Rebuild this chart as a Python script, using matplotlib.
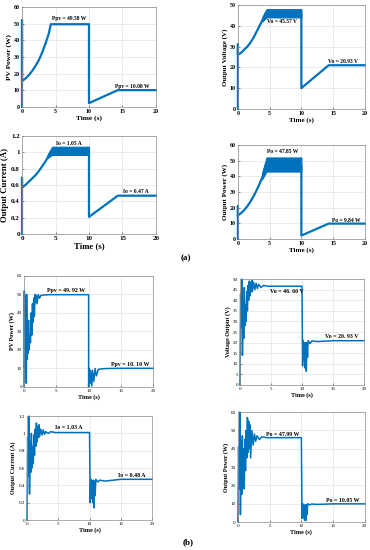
import numpy as np
import matplotlib
matplotlib.use("Agg")
import matplotlib.pyplot as plt

plt.rcParams['font.family'] = ['Liberation Serif', 'DejaVu Serif']
BLUE = '#0072BD'

# ---------------- (a) simulated, smooth response ----------------
a_ppv_t = [0, 0, 0, 0.5, 1, 1.5, 2, 2.5, 3, 3.5, 4, 4.3, 10, 10, 14.3, 20]
a_ppv_v = [0, 52, 15.5, 17, 19, 21.5, 24.5, 28, 32.5, 38, 44, 49.6, 49.6, 2.3, 10.1, 10.1]

a_vo_t = [0, 0, 0, 0.5, 1, 1.5, 2, 2.5, 3, 3.5, 4, 4.4, 10, 10, 14.3, 20]
a_vo_v = [0, 31, 26, 27, 28.5, 30, 32, 34.5, 37.5, 40.5, 43.5, 46, 46, 10, 21, 21]
a_vo_band = ([3.8, 4.5, 10], [42, 44, 44], [44, 48, 48])

a_io_t = [0, 0, 0, 0.5, 1, 1.5, 2, 2.5, 3, 3.5, 4, 4.4, 10, 10, 14.3, 20]
a_io_v = [0, 0.69, 0.57, 0.6, 0.64, 0.68, 0.72, 0.77, 0.83, 0.89, 0.96, 1.02, 1.02, 0.21, 0.47, 0.47]
a_io_band = ([3.8, 4.5, 10], [0.93, 0.97, 0.97], [0.97, 1.07, 1.07])

a_po_t = [0, 0, 0, 0.5, 1, 1.5, 2, 2.5, 3, 3.5, 4, 4.4, 10, 10, 14.3, 20]
a_po_v = [0, 21, 15, 16.5, 18.5, 21, 24, 27.5, 31.5, 36, 41, 47, 47, 2.2, 9.8, 9.8]
a_po_band = ([3.8, 4.5, 10], [38, 43, 43], [42, 52, 52])

# ---------------- (b) experimental, noisy start ----------------
b_ppv_t = [0, 0.05, 0.1, 0.2, 0.3, 0.35, 0.4, 0.5, 0.55, 0.6, 0.7, 0.8, 0.9, 1.0, 1.1,
           1.2, 1.3, 1.4, 1.5, 1.6, 1.7, 1.8, 1.9, 2.0, 2.2, 2.4, 2.6, 3.0, 4, 10,
           10, 10.1, 10.2, 10.3, 10.5, 10.6, 10.8, 11.0, 11.2, 11.5, 12, 13, 15, 20]
b_ppv_v = [0, 52, 10, 49, 20, 2, 50, 15, 30, 18, 36, 20, 28, 24, 40,
           28, 45, 35, 48, 38, 50, 46, 49.5, 45, 50, 48, 49.5, 49.7, 49.9, 49.9,
           0, 10, 2, 9, 0.5, 9, 3, 10, 6, 9.5, 9.8, 10, 10.1, 10.1]

b_vo_t = [0, 0.1, 0.2, 0.3, 0.4, 0.5, 0.6, 0.7, 0.8, 0.9, 1.0, 1.1, 1.2, 1.3, 1.4,
          1.5, 1.6, 1.7, 1.8, 1.9, 2.0, 2.2, 2.4, 2.6, 2.8, 3.0, 3.4, 3.8, 4.5, 10,
          10.1, 10.2, 10.3, 10.4, 10.5, 10.6, 10.7, 10.8, 10.9, 11.0, 11.3, 11.6, 12.5, 15, 20]
b_vo_v = [0, 43, 27, 50, 14, 40, 22, 46, 28, 38, 30, 44, 35, 47, 40,
          49, 42, 48.5, 44, 49.5, 44, 48.5, 45, 48, 45.5, 47.5, 46, 47, 46.6, 46.6,
          9, 21, 12, 20, 8, 20, 6.5, 20, 13, 21, 19.5, 20.8, 20.5, 20.9, 20.9]

b_io_t = [0, 0.1, 0.2, 0.3, 0.4, 0.5, 0.6, 0.7, 0.8, 0.9, 1.0, 1.1, 1.2, 1.3, 1.4,
          1.5, 1.6, 1.7, 1.8, 1.9, 2.0, 2.2, 2.4, 2.6, 2.8, 3.0, 3.4, 3.8, 4.5, 10,
          10.1, 10.2, 10.3, 10.4, 10.5, 10.6, 10.7, 10.8, 10.9, 11.0, 11.3, 11.6, 12.5, 15, 20]
b_io_v = [0, 0.95, 0.5, 1.2, 0.3, 0.9, 0.55, 1.0, 0.6, 0.85, 0.65, 0.98, 0.75, 1.05, 0.85,
          1.12, 0.9, 1.08, 0.95, 1.1, 0.96, 1.05, 0.98, 1.04, 0.99, 1.02, 1.0, 1.02, 1.01, 1.01,
          0.2, 0.47, 0.25, 0.45, 0.2, 0.46, 0.14, 0.45, 0.28, 0.47, 0.44, 0.46, 0.45, 0.47, 0.47]

b_po_t = [0, 0.1, 0.2, 0.3, 0.4, 0.5, 0.6, 0.7, 0.8, 0.9, 1.0, 1.1, 1.2, 1.3, 1.4,
          1.5, 1.6, 1.7, 1.8, 1.9, 2.0, 2.2, 2.4, 2.6, 2.8, 3.0, 3.4, 3.8, 4.5, 10,
          10.1, 10.2, 10.3, 10.4, 10.5, 10.6, 10.7, 10.8, 10.9, 11.0, 11.3, 11.6, 12.5, 15, 20]
b_po_v = [0, 41, 18, 60, 4, 44, 15, 47, 20, 40, 18, 45, 28, 50, 35,
          57, 38, 55, 40, 53, 35, 50, 42, 48, 44, 47, 45, 46.5, 46, 46,
          2, 10, 2.5, 9, 1, 9.5, 0.8, 9.5, 4, 10, 9.3, 9.8, 9.6, 9.9, 9.9]

a_panels = [
    ([0.0595, 0.8055, 0.362, 0.182], a_ppv_t, a_ppv_v, None, 'PV Power (W)', (0, 60), [0, 10, 20, 30, 40, 50, 60],
     [('Ppv = 49.58 W', 7, 52.8), ('Ppv = 10.08 W', 16.5, 12)], 5.3, 4.3),
    ([0.643, 0.802, 0.343, 0.189], a_vo_t, a_vo_v, a_vo_band, 'Output Voltage (V)', (0, 50), [0, 10, 20, 30, 40, 50],
     [('Vo = 45.57 V', 7, 41.8), ('Vo = 20.93 V', 16.5, 23)], 5.0, 4.3),
    ([0.0595, 0.5745, 0.362, 0.178], a_io_t, a_io_v, a_io_band, 'Output Current (A)', (0, 1.2), [0, 0.2, 0.4, 0.6, 0.8, 1, 1.2],
     [('Io = 1.05 A', 7, 1.11), ('Io = 0.47 A', 17, 0.52)], 6.3, 5.0),
    ([0.643, 0.5655, 0.343, 0.171], a_po_t, a_po_v, a_po_band, 'Output Power (W)', (0, 60), [0, 10, 20, 30, 40, 50, 60],
     [('Po = 47.85 W', 7, 56), ('Po = 9.84 W', 17, 12)], 5.0, 4.3),
]

b_panels = [
    ([0.065, 0.2964, 0.349, 0.2018], b_ppv_t, b_ppv_v, 'PV Power (W)', (0, 60), [0, 10, 20, 30, 40, 50, 60],
     [('Ppv = 49. 92 W', 6.5, 52), ('Ppv = 10. 10 W', 16.5, 12.4)]),
    ([0.6486, 0.30, 0.335, 0.1927], b_vo_t, b_vo_v, 'Voltage Output (V)', (0, 50), list(range(0, 51, 5)),
     [('Vo = 46. 60 V', 7.5, 44), ('Vo = 20. 93 V', 16.5, 22.8)]),
    ([0.073, 0.0545, 0.338, 0.189], b_io_t, b_io_v, 'Output Current (A)', (0, 1.2), [0, 0.2, 0.4, 0.6, 0.8, 1, 1.2],
     [('Io = 1.03 A', 6.7, 1.065), ('Io = 0.48 A', 16.8, 0.51)]),
    ([0.643, 0.0509, 0.343, 0.2], b_po_t, b_po_v, 'Output Power (W)', (0, 60), [0, 10, 20, 30, 40, 50, 60],
     [('Po = 47.99 W', 7, 47.8), ('Po = 10.05 W', 16.5, 11.5)]),
]


def style_axes(ax, ylim, yticks, ylabel, lab_fs, tick_fs, bold):
    ax.set_xlim(0, 20)
    ax.set_ylim(*ylim)
    ax.set_xticks([0, 5, 10, 15, 20])
    ax.set_yticks(yticks)
    ax.set_yticklabels(['%g' % v for v in yticks])
    ax.grid(True, color='#e3e3e3', linewidth=0.5)
    ax.set_axisbelow(True)
    for s in ax.spines.values():
        s.set_color('#8c8c8c')
        s.set_linewidth(0.5)
    ax.tick_params(direction='in', length=1.5, width=0.4, labelsize=tick_fs, pad=1.5,
                   colors='#333333', labelcolor='black')
    for lab in ax.get_xticklabels() + ax.get_yticklabels():
        lab.set_fontweight('bold' if bold else 'normal')
    ax.set_xlabel('Time (s)', fontsize=lab_fs, fontweight='bold', labelpad=1)
    ax.set_ylabel(ylabel, fontsize=lab_fs, fontweight='bold', labelpad=1.5)


fig = plt.figure(figsize=(3.7, 5.5), dpi=100)

for pos, t, v, band, ylabel, ylim, yticks, notes, lab_fs, tick_fs in a_panels:
    ax = fig.add_axes(pos)
    ax.plot(t, v, color=BLUE, linewidth=1.6, clip_on=False)
    if band is not None:
        ax.fill_between(band[0], band[1], band[2], color=BLUE, linewidth=0.8, edgecolor=BLUE)
    for txt, x, y in notes:
        ax.text(x, y, txt, fontsize=4.0, fontweight='bold', ha='center', va='center')
    style_axes(ax, ylim, yticks, ylabel, lab_fs, tick_fs, True)

for pos, t, v, ylabel, ylim, yticks, notes in b_panels:
    ax = fig.add_axes(pos)
    ax.plot(t, v, color=BLUE, linewidth=1.1, clip_on=False)
    for txt, x, y in notes:
        ax.text(x, y, txt, fontsize=4.2, fontweight='bold', ha='center', va='center')
    style_axes(ax, ylim, yticks, ylabel, 4.4, 3.6, False)

fig.text(186 / 370, 1 - 258 / 550, '(a)', fontsize=6.5, fontweight='bold', ha='center', va='center')
fig.text(188 / 370, 1 - 542 / 550, '(b)', fontsize=6.5, fontweight='bold', ha='center', va='center')

fig.savefig('out.png', dpi=100)
